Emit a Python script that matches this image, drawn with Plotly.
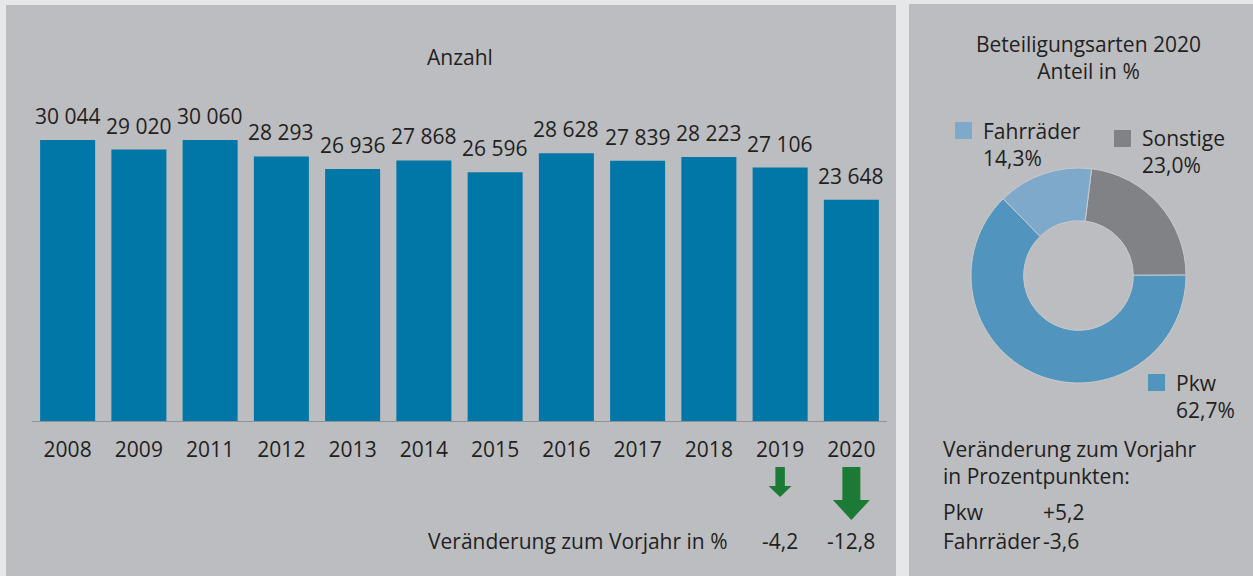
import plotly.graph_objects as go

# --- data -------------------------------------------------------------
years = ["2008", "2009", "2011", "2012", "2013", "2014", "2015", "2016",
         "2017", "2018", "2019", "2020"]
anzahl = [30044, 29020, 30060, 28293, 26936, 27868, 26596, 28628,
          27839, 28223, 27106, 23648]

change_years = ["2019", "2020"]
change_pct = [-4.2, -12.8]

arten = ["Sonstige", "Pkw", "Fahrräder"]
anteil = [23.0, 62.7, 14.3]

pp_labels = ["Pkw", "Fahrräder"]
pp_change = [5.2, -3.6]

# --- styles -----------------------------------------------------------
W, H = 1253, 576
FONT = "Open Sans"
TXT = "#231f20"
PAGE = "#e6e7e9"
PANEL = "#bcbdc1"
BAR = "#0077a6"
GREEN = "#1b7b36"
PIE_COLORS = {"Sonstige": "#818286", "Pkw": "#5194bd", "Fahrräder": "#7fa9cb"}


def px(x):
    return x / W


def py(y):
    return 1 - y / H


def de(v, fmt="{:.1f}"):
    return fmt.format(v).replace(".", ",")


fig = go.Figure()

fig.add_trace(go.Bar(x=years, y=anzahl, marker_color=BAR, marker_line_width=0,
                     hoverinfo="x+y", showlegend=False))

fig.add_trace(go.Pie(labels=arten, values=anteil, sort=False, direction="clockwise",
                     rotation=7, hole=0.51, textinfo="none", showlegend=False,
                     marker=dict(colors=[PIE_COLORS[a] for a in arten],
                                 line=dict(color="#c9cacd", width=1)),
                     domain=dict(x=[px(1078.5 - 107.5), px(1078.5 + 107.5)],
                                 y=[py(275.5 + 107.5), py(275.5 - 107.5)])))

shapes = [
    # panels
    dict(type="rect", xref="paper", yref="paper", x0=px(6), x1=px(896), y0=0, y1=py(5),
         fillcolor=PANEL, line_width=0, layer="below"),
    dict(type="rect", xref="paper", yref="paper", x0=px(909), x1=1, y0=0, y1=py(4),
         fillcolor=PANEL, line_width=0, layer="below"),
]

# down arrows for the yearly change (sizes just styling)
arrow_style = {"2019": (9.5, 23, 30, 11), "2020": (18, 37, 53, 20)}
for yr, ch in zip(change_years, change_pct):
    s, hw, L, hl = arrow_style[yr]
    path = (f"M {-s/2},0 L {s/2},0 L {s/2},{-(L-hl)} L {hw/2},{-(L-hl)} L 0,{-L} "
            f"L {-hw/2},{-(L-hl)} L {-s/2},{-(L-hl)} Z")
    shapes.append(dict(type="path", xref="x", yref="paper", xsizemode="pixel",
                       ysizemode="pixel", xanchor=years.index(yr), yanchor=py(467),
                       path=path, fillcolor=GREEN, line_width=0))

# legend squares for the donut
sq = {"Fahrräder": (955, 122), "Sonstige": (1114, 130), "Pkw": (1148, 374)}
for a in arten:
    x0, y0 = sq[a]
    shapes.append(dict(type="rect", xref="paper", yref="paper", x0=px(x0), x1=px(x0 + 17),
                       y0=py(y0 + 17), y1=py(y0), fillcolor=PIE_COLORS[a], line_width=0))

ann = []
f = dict(family=FONT, size=21, color=TXT)


def note(x, y, text, xanchor="center", xref="paper", **kw):
    ann.append(dict(x=x, y=y, xref=xref, yref="paper", text=text, showarrow=False,
                    xanchor=xanchor, yanchor="middle", align=xanchor,
                    font=f, **kw))


# bar value labels (x as category index)
for i, v in enumerate(anzahl):
    ann.append(dict(x=i, y=v, xref="x", yref="y", text=f"{v:,}".replace(",", " "),
                    showarrow=False, xanchor="center", yanchor="bottom", yshift=8, font=f))

note(px(460), py(57), "Anzahl")
note(px(730), py(541), "Veränderung zum Vorjahr in %", xanchor="right")
for yr, ch in zip(change_years, change_pct):
    note(years.index(yr), py(541), de(ch), xref="x")

# right panel
note(px(1088), py(58), "Beteiligungsarten 2020<br>Anteil in %")

lab_pos = {"Fahrräder": (981, 144), "Sonstige": (1140, 152), "Pkw": (1174, 396)}
for a, v in zip(arten, anteil):
    x0, yc = lab_pos[a]
    note(px(x0), py(yc), f"{a}<br>{de(v)}%", xanchor="left")

note(px(941), py(462), "Veränderung zum Vorjahr<br>in Prozentpunkten:", xanchor="left")
for lab, v, yc in zip(pp_labels, pp_change, [512, 541]):
    note(px(941), py(yc), lab, xanchor="left")
    note(px(1041), py(yc), de(v, "{:+.1f}"), xanchor="left")

fig.update_layout(
    width=W, height=H, margin=dict(l=0, r=0, t=0, b=0, pad=0),
    paper_bgcolor=PAGE, plot_bgcolor=PANEL, bargap=0.228,
    font=f, shapes=shapes, annotations=ann,
    xaxis=dict(type="category", domain=[px(32), px(887)], range=[-0.5, 11.5],
               autorange=False, showline=True, linecolor="#909195", linewidth=1,
               automargin=False, showgrid=False, zeroline=False, ticks="",
               ticklabelstandoff=10, tickfont=f, fixedrange=True),
    yaxis=dict(domain=[py(421), py(112.4)], range=[0, 33000], autorange=False,
               visible=False, automargin=False, showgrid=False, fixedrange=True),
)

fig.write_html("out.html", post_script="document.body.style.margin='0';",
               config={"displayModeBar": False})
